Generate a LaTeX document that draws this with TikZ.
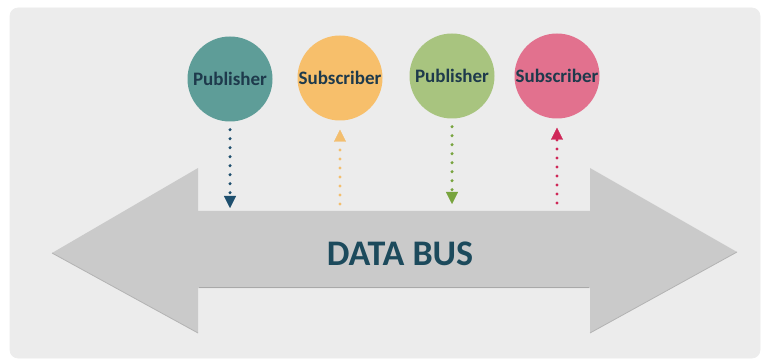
\documentclass[tikz,border=0pt]{standalone}
\usepackage{fontspec}
\setmainfont{Carlito}
\usetikzlibrary{arrows.meta,decorations.markings}
\definecolor{panel}{HTML}{ECECEC}
\definecolor{busgray}{HTML}{CACACA}
\definecolor{busshadow}{HTML}{A9A9A9}
\definecolor{txtnavy}{HTML}{1E3A4C}
\definecolor{bustxt}{HTML}{1C4A5C}
\definecolor{cteal}{HTML}{5E9D98}
\definecolor{cyellow}{HTML}{F7BF6B}
\definecolor{cgreen}{HTML}{A8C47F}
\definecolor{cpink}{HTML}{E2718E}
\definecolor{adblue}{HTML}{1E4F6E}
\definecolor{aorange}{HTML}{F3BE6E}
\definecolor{agreen}{HTML}{78A43E}
\definecolor{ared}{HTML}{CF2758}
\tikzset{
  role/.style={circle, minimum size=85pt, inner sep=0pt, font=\fontsize{19}{19}\selectfont\bfseries, text=txtnavy},
  flow/.style={postaction={decorate}, decoration={markings,
     mark=between positions 2pt and -12pt step 9pt with {\fill (0,0) circle (1.7pt);},
     mark=at position 1 with {\arrow{Triangle[width=12pt,length=12pt]}}}},
}
\begin{document}
\begin{tikzpicture}[x=1pt,y=-1pt]
\useasboundingbox (0,0) rectangle (765,363);
\fill[white] (0,0) rectangle (765,363);
\fill[panel, draw=white!85!gray, line width=0.6pt, rounded corners=8pt] (10,8) rectangle (760,358);
% data bus arrow
\fill[busgray] (52,253) -- (198,168) -- (198,211) -- (590,211) -- (590,168) -- (737,252) -- (590,333) -- (590,288) -- (198,288) -- (198,333) -- cycle;
\draw[busshadow, line width=1.4pt] (199,287.5) -- (589,287.5);
\draw[busshadow!70!busgray, line width=0.8pt] (52,253) -- (198,333);
\draw[busshadow!70!busgray, line width=0.8pt] (590,333) -- (737,252);
\node[font=\fontsize{36}{36}\selectfont\bfseries, text=bustxt] (bus) at (400,254) {DATA BUS};
% participants
\node[role, fill=cteal] (p1) at (230,79) {Publisher};
\node[role, fill=cyellow] (s1) at (340,78) {Subscriber};
\node[role, fill=cgreen] (p2) at (452,76) {Publisher};
\node[role, fill=cpink] (s2) at (557,76) {Subscriber};
% bus attachment points
\coordinate (b1) at (230,208);
\coordinate (b2) at (340,206);
\coordinate (b3) at (452,204);
\coordinate (b4) at (557,205);
% flows
\path[flow, color=adblue] ([yshift=-6pt]p1.south) -- (b1);
\path[flow, color=aorange] (b2) -- ([yshift=-9pt]s1.south);
\path[flow, color=agreen] ([yshift=-6pt]p2.south) -- (b3);
\path[flow, color=ared] (b4) -- ([yshift=-9pt]s2.south);
\end{tikzpicture}
\end{document}
